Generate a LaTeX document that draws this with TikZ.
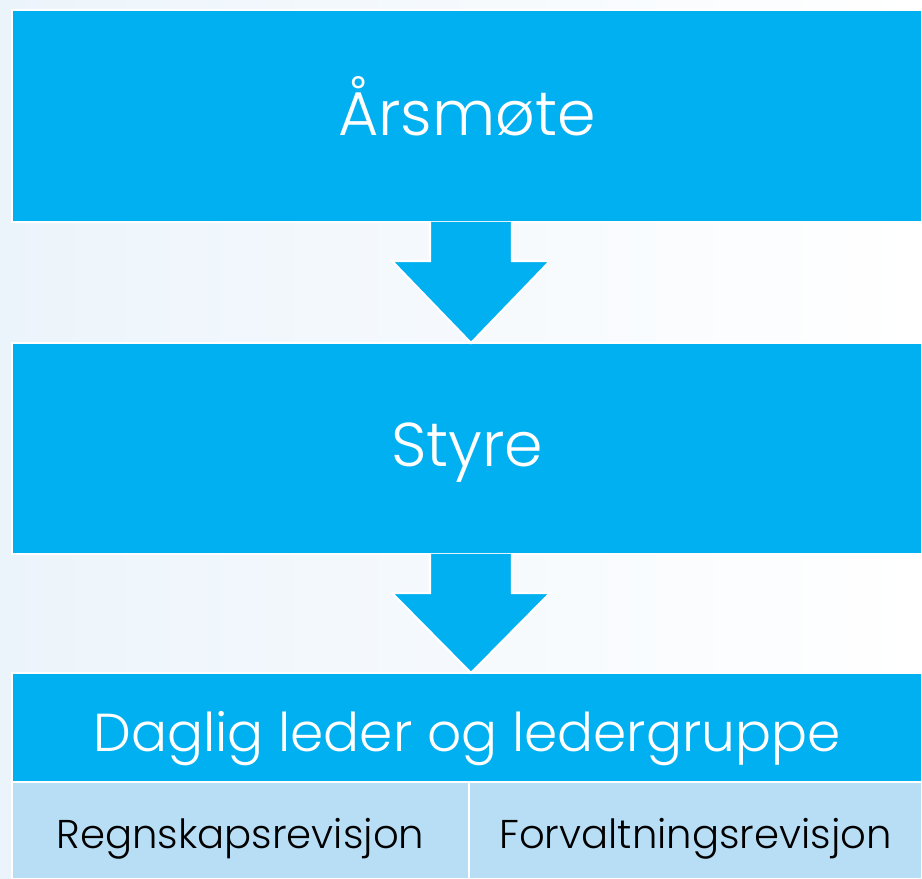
\documentclass[tikz,border=0pt]{standalone}
\usepackage{fontspec}
\setmainfont{Poppins Light}
\usetikzlibrary{positioning,calc}
\definecolor{mainblue}{HTML}{00B0F0}
\definecolor{paleblue}{HTML}{B8DEF6}
\definecolor{bgblue}{HTML}{ECF4FB}
\newcommand{\basetext}[2]{\raisebox{-#1}[0pt][0pt]{#2}}
\begin{document}
\begin{tikzpicture}[line join=miter,
	bigbox/.style={fill=mainblue, draw=white, line width=1pt, text=white, inner sep=0pt, outer sep=0pt, minimum width=22.75cm},
	subbox/.style={fill=paleblue, draw=white, line width=0.8pt, text=black, inner sep=0pt, outer sep=0pt, minimum height=2.425cm, font=\fontsize{28.6}{31}\selectfont},
	flow/.style={fill=mainblue, draw=white, line width=1.5pt}]
	% background
	\fill[left color=bgblue, right color=white] (0,0) rectangle (23.05,21.975);
	\useasboundingbox (0,0) rectangle (23.05,21.975);
	% boxes
	\node[bigbox, minimum height=5.3cm, anchor=north west, font=\fontsize{44}{48}\selectfont] (arsmote) at (0.3,21.725) {\basetext{0.5cm}{Årsmøte}};
	\node[bigbox, minimum height=5.275cm, below=3.025cm of arsmote, font=\fontsize{44}{48}\selectfont] (styre) {\basetext{0.46cm}{Styre}};
	\node[bigbox, minimum height=2.725cm, below=2.975cm of styre, font=\fontsize{38}{42}\selectfont] (leder) {\basetext{0.61cm}{Daglig leder og ledergruppe}};
	\node[subbox, minimum width=11.425cm, anchor=north west] (regnskap) at (leder.south west) {\basetext{0.44cm}{Regnskapsrevisjon}};
	\node[subbox, minimum width=11.325cm, anchor=north east] (forvaltning) at (leder.south east) {\basetext{0.44cm}{Forvaltningsrevisjon}};
	% arrows
	\foreach \from/\to in {arsmote/styre, styre/leder}{
		\coordinate (top) at ([xshift=0.1cm]\from.south);
		\coordinate (tip) at ([xshift=0.1cm]\to.north);
		\draw[flow] ([xshift=-1.025cm]top) -- ++(0,-0.975) -- ++(-0.95,0) -- (tip)
			-- ($(top)+(1.975,-0.975)$) -- ++(-0.95,0) -- ([xshift=1.025cm]top);
	}
\end{tikzpicture}
\end{document}
